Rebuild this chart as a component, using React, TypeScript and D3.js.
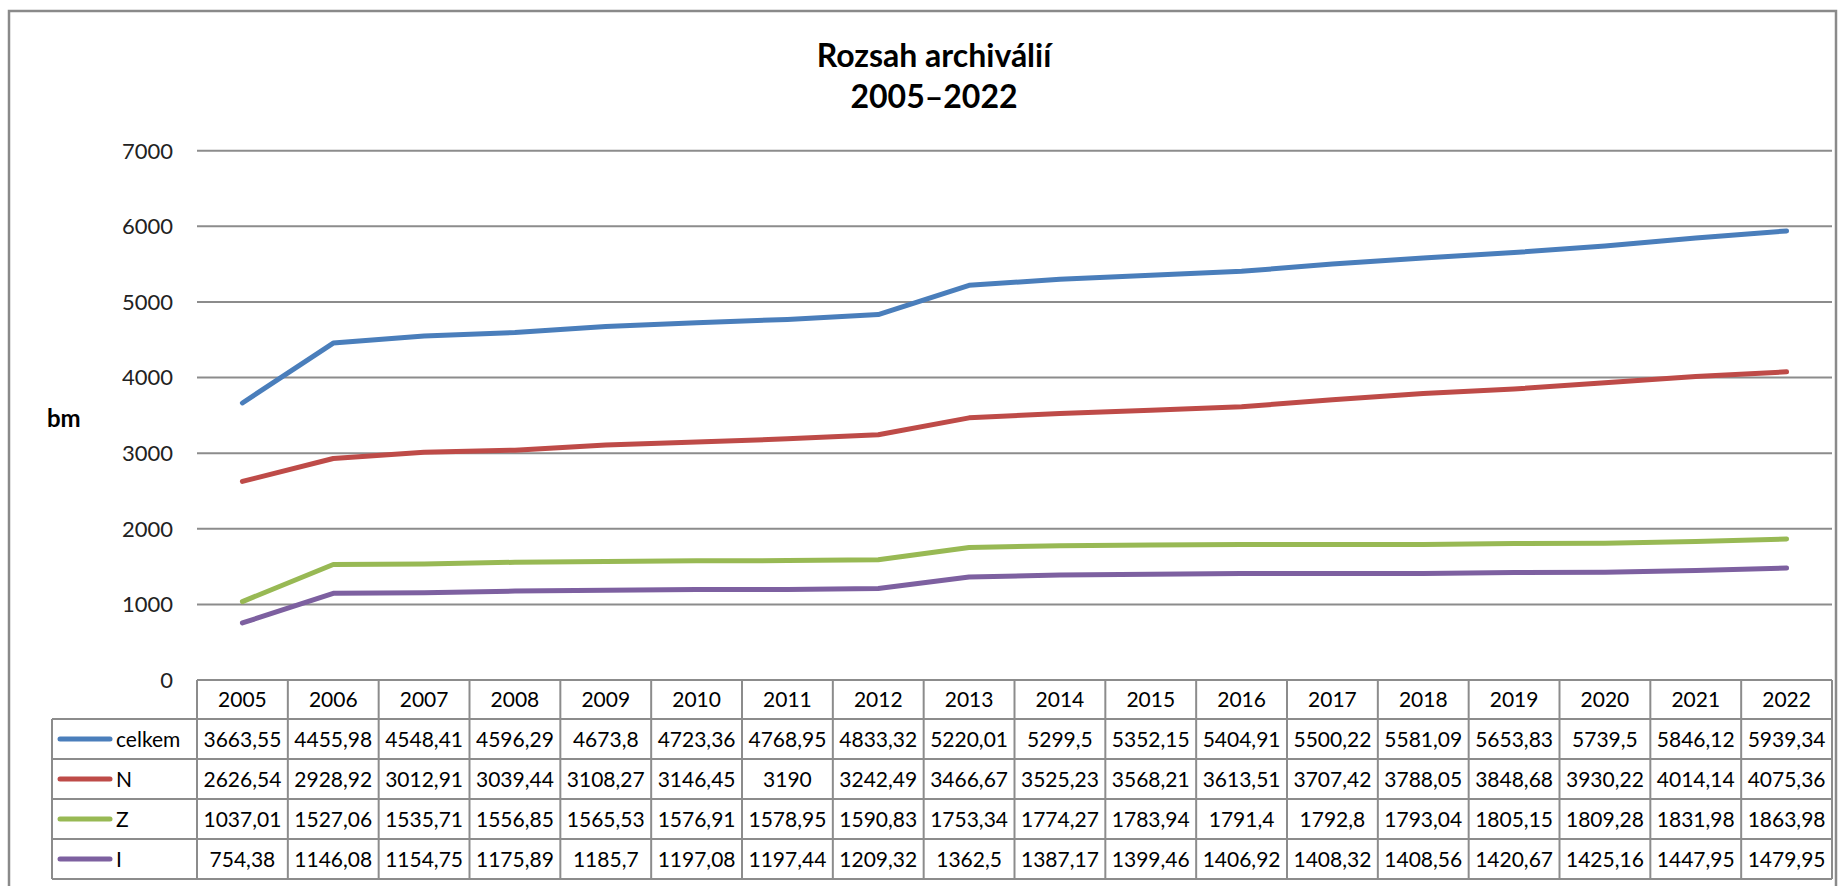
import React, { useEffect } from "react";
import * as d3 from "d3";

const years = [2005, 2006, 2007, 2008, 2009, 2010, 2011, 2012, 2013, 2014, 2015, 2016, 2017, 2018, 2019, 2020, 2021, 2022];
const celkem = [3663.55, 4455.98, 4548.41, 4596.29, 4673.8, 4723.36, 4768.95, 4833.32, 5220.01, 5299.5, 5352.15, 5404.91, 5500.22, 5581.09, 5653.83, 5739.5, 5846.12, 5939.34];
const seriesN = [2626.54, 2928.92, 3012.91, 3039.44, 3108.27, 3146.45, 3190, 3242.49, 3466.67, 3525.23, 3568.21, 3613.51, 3707.42, 3788.05, 3848.68, 3930.22, 4014.14, 4075.36];
const seriesZ = [1037.01, 1527.06, 1535.71, 1556.85, 1565.53, 1576.91, 1578.95, 1590.83, 1753.34, 1774.27, 1783.94, 1791.4, 1792.8, 1793.04, 1805.15, 1809.28, 1831.98, 1863.98];
const seriesI = [754.38, 1146.08, 1154.75, 1175.89, 1185.7, 1197.08, 1197.44, 1209.32, 1362.5, 1387.17, 1399.46, 1406.92, 1408.32, 1408.56, 1420.67, 1425.16, 1447.95, 1479.95];
const seriesNames = ["celkem", "N", "Z", "I"];
const seriesColors = ["#4a7ebb", "#be4b48", "#98b954", "#7d60a0"];
const yTicks = [0, 1000, 2000, 3000, 4000, 5000, 6000, 7000];
const titleLines = ["Rozsah archiválií", "2005–2022"];
const yLabel = "bm";

const W = 1838;
const H = 886;
const FONT = "Lato, 'Open Sans', sans-serif";

export default function App() {
  useEffect(() => {
    document.body.style.margin = "0";
  }, []);

  const allSeries = [celkem, seriesN, seriesZ, seriesI];
  const plotLeft = 197;
  const plotRight = 1832;
  const y = d3.scaleLinear().domain([0, 7000]).range([680, 150.7]);
  const x = d3
    .scaleBand<number>()
    .domain(years)
    .range([plotLeft, plotRight]);
  const bw = x.bandwidth();
  const cx = (yr: number) => (x(yr) as number) + bw / 2;

  const line = d3
    .line<number>()
    .x((_, i) => cx(years[i]))
    .y((v) => y(v));

  const tableTop = y(0);
  const headerH = 39;
  const rowH = 40;
  const legendLeft = 52;
  const tableBottom = tableTop + headerH + rowH * allSeries.length;
  const grid = "#8c8c8c";
  const fmt = (v: number) => String(v).replace(".", ",");

  return (
    <svg width={W} height={H} style={{ display: "block" }} xmlns="http://www.w3.org/2000/svg">
      <rect x={0} y={0} width={W} height={H} fill="#ffffff" />
      {/* outer border */}
      <rect x={9} y={11} width={1827} height={H + 10} fill="none" stroke="#8a8a8a" strokeWidth={2.5} />

      {/* title */}
      {titleLines.map((t, i) => (
        <text
          key={t}
          x={934}
          y={66.5 + i * 41}
          textAnchor="middle"
          fontFamily={FONT}
          fontWeight={700}
          fontSize={32}
          fill="#000"
        >
          {t}
        </text>
      ))}

      {/* gridlines */}
      {yTicks.filter((t) => t > 0).map((t) => (
        <line key={t} x1={plotLeft} x2={plotRight} y1={y(t)} y2={y(t)} stroke={grid} strokeWidth={2} />
      ))}

      {/* y tick labels */}
      {yTicks.map((t) => (
        <text
          key={t}
          x={173}
          y={y(t)}
          dy="0.36em"
          textAnchor="end"
          fontFamily={FONT}
          fontSize={22}
          fill="#222"
        >
          {t}
        </text>
      ))}

      {/* y label */}
      <text x={47} y={418} dy="0.36em" fontFamily={FONT} fontWeight={700} fontSize={24} fill="#000">
        {yLabel}
      </text>

      {/* series lines */}
      {allSeries.map((s, i) => (
        <path
          key={seriesNames[i]}
          d={line(s) || ""}
          fill="none"
          stroke={seriesColors[i]}
          strokeWidth={5}
          strokeLinejoin="round"
          strokeLinecap="round"
        />
      ))}

      {/* data table */}
      <g>
        {years.map((yr) => (
          <text
            key={yr}
            x={cx(yr)}
            y={tableTop + headerH / 2}
            dy="0.36em"
            textAnchor="middle"
            fontFamily={FONT}
            fontSize={21}
            fill="#000"
          >
            {yr}
          </text>
        ))}
        {allSeries.map((s, r) => {
          const rowY = tableTop + headerH + r * rowH;
          const mid = rowY + rowH / 2;
          return (
            <g key={seriesNames[r]}>
              <line
                x1={60}
                x2={110}
                y1={mid}
                y2={mid}
                stroke={seriesColors[r]}
                strokeWidth={5}
                strokeLinecap="round"
              />
              <text x={116} y={mid} dy="0.36em" fontFamily={FONT} fontSize={21} fill="#000">
                {seriesNames[r]}
              </text>
              {s.map((v, c) => (
                <text
                  key={c}
                  x={cx(years[c])}
                  y={mid}
                  dy="0.36em"
                  textAnchor="middle"
                  fontFamily={FONT}
                  fontSize={21}
                  fill="#000"
                >
                  {fmt(v)}
                </text>
              ))}
            </g>
          );
        })}
        <line x1={plotLeft} x2={plotRight} y1={tableTop} y2={tableTop} stroke={grid} strokeWidth={2} />
        {allSeries.map((_, r) => (
          <line
            key={"h" + r}
            x1={legendLeft}
            x2={plotRight}
            y1={tableTop + headerH + r * rowH}
            y2={tableTop + headerH + r * rowH}
            stroke={grid}
            strokeWidth={2}
          />
        ))}
        <line x1={legendLeft} x2={plotRight} y1={tableBottom} y2={tableBottom} stroke={grid} strokeWidth={2} />
        <line x1={legendLeft} x2={legendLeft} y1={tableTop + headerH} y2={tableBottom} stroke={grid} strokeWidth={2} />
        {years.map((yr) => (
          <line
            key={"v" + yr}
            x1={x(yr) as number}
            x2={x(yr) as number}
            y1={tableTop}
            y2={tableBottom}
            stroke={grid}
            strokeWidth={2}
          />
        ))}
        <line x1={plotRight} x2={plotRight} y1={tableTop} y2={tableBottom} stroke={grid} strokeWidth={2} />
      </g>
    </svg>
  );
}
